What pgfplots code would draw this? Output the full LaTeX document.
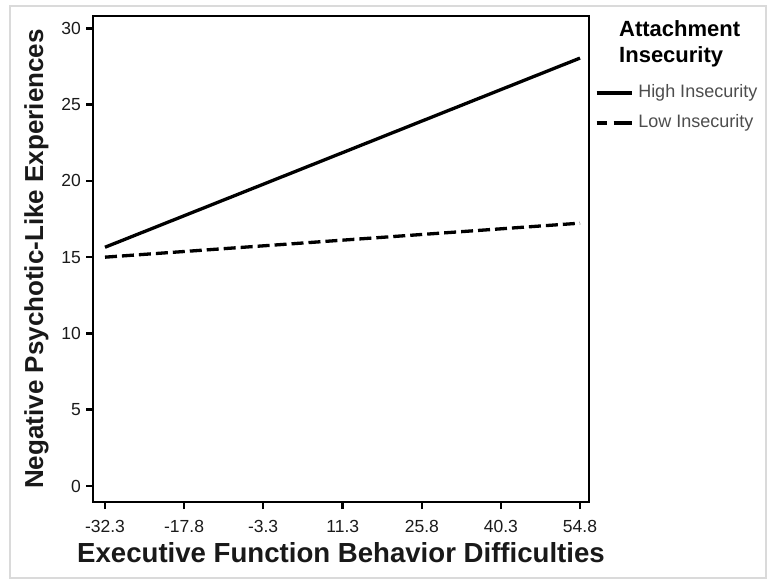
\documentclass[border=0pt]{standalone}
\usepackage{pgfplots}
\pgfplotsset{compat=1.18}
\usepackage{fontspec}
\setmainfont{Liberation Sans}
\definecolor{tickgray}{HTML}{1A1A1A}
\definecolor{leggray}{HTML}{4D4D4D}
\definecolor{framegray}{HTML}{DADADA}
\begin{document}
\begin{tikzpicture}
\path[use as bounding box] (0pt,0pt) rectangle (767pt,579pt);
\draw[framegray, line width=2pt] (10pt,1pt) rectangle (766pt,573pt);
\begin{axis}[
  at={(93pt,77pt)}, anchor=south west,
  scale only axis, width=496pt, height=486pt,
  xmin=-34.5, xmax=56.45, ymin=-1.05, ymax=30.81,
  xtick={-32.3,-17.8,-3.3,11.3,25.8,40.3,54.8},
  xticklabels={-32.3,-17.8,-3.3,11.3,25.8,40.3,54.8},
  ytick={0,5,10,15,20,25,30},
  xtick pos=bottom, ytick pos=left,
  axis line style={line width=2.7pt},
  tick align=outside, major tick length=7pt,
  tick style={line width=2.6pt, black},
  /pgf/number format/assume math mode=true,
  ticklabel style={font=\fontsize{17.5}{19}\selectfont, text=tickgray},
  xticklabel style={inner sep=0pt, yshift=-11pt},
  yticklabel style={inner sep=0pt, xshift=-5pt},
  xlabel={Executive Function Behavior Difficulties},
  ylabel={Negative Psychotic-Like Experiences},
  xlabel style={at={(axis description cs:0.5,0)}, anchor=base, yshift=-60pt, inner sep=0pt, font=\fontsize{27.6}{30}\selectfont\bfseries, text=black!90},
  ylabel style={at={(axis description cs:-0.1008,0.5)}, anchor=base, inner sep=0pt, font=\fontsize{26}{30}\selectfont\bfseries, text=black!90},
  clip=false,
  legend cell align=left,
  legend style={at={(rel axis cs:1.012,0.8107)}, anchor=west, draw=none, fill=none,
    inner sep=0pt, outer sep=0pt, row sep=13pt,
    nodes={inner sep=0pt, text height=13pt, text depth=4pt, text=leggray},
    font=\fontsize{18}{20}\selectfont},
  legend image code/.code={\draw[#1] (0pt,0pt) -- (35pt,0pt);},
]
\addplot[forget plot, black, line width=3.3pt] coordinates {(-32.3,15.65) (54.8,28.05)};
\addplot[forget plot, black, line width=3.3pt, dash pattern=on 12pt off 5pt] coordinates {(-32.3,15.0) (54.8,17.23)};
\addlegendimage{black, line width=3.3pt}
\addlegendentry{\hspace{5pt}High Insecurity}
\addlegendimage{black, line width=3.3pt, dash pattern=on 10pt off 7pt on 18pt off 0pt}
\addlegendentry{\hspace{5pt}Low Insecurity}
\end{axis}
\node[anchor=base west, inner sep=0pt, align=left, font=\fontsize{22}{26}\selectfont\bfseries] at (619pt,516pt) {Attachment\\Insecurity};
\end{tikzpicture}
\end{document}
